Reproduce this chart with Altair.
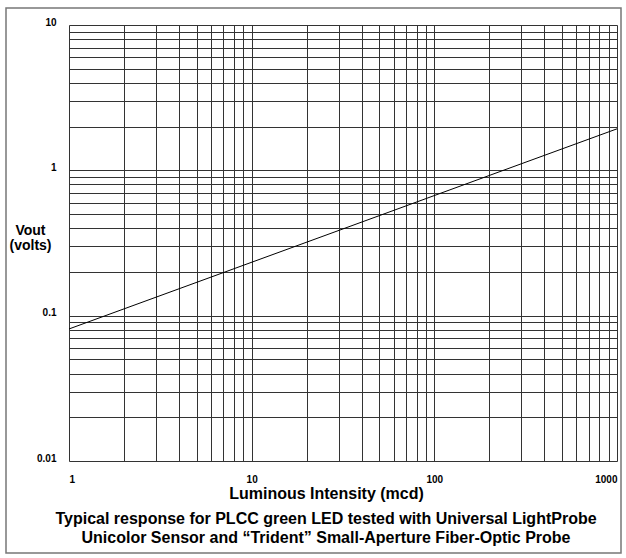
import altair as alt
import pandas as pd

# Line (log-log straight line)
intensity_mcd = [1, 1000]
vout_volts = [0.081, 1.93]

# Log-paper grid values
x_grid = [m * 10 ** e for e in range(0, 3) for m in range(1, 10)] + [1000]
y_grid = [round(m * 10.0 ** e, 4) for e in (-2, -1, 0) for m in range(1, 10)] + [10]
x_labels = [1, 10, 100, 1000]
y_labels = [0.01, 0.1, 1, 10]

title_lines = [
    "Typical response for PLCC green LED tested with Universal LightProbe",
    "Unicolor Sensor and \u201cTrident\u201d Small-Aperture Fiber-Optic Probe",
]

df = pd.DataFrame({"x": intensity_mcd, "y": vout_volts})
FONT = "Liberation Sans"

x_axis = alt.Axis(
    values=x_grid,
    format="d",
    labelExpr="indexof(%s, datum.value) >= 0 ? datum.label : ''" % x_labels,
    labelFlush=True,
    labelOverlap=False,
    labelFont=FONT,
    labelFontSize=10,
    labelFontWeight="bold",
    labelColor="#000",
    labelPadding=13,
    ticks=False,
    domain=False,
    grid=True,
    gridColor="#333",
    gridWidth=1,
    gridOpacity=1,
    title="Luminous Intensity (mcd)",
    titleFont=FONT,
    titleFontSize=16,
    titleFontWeight="bold",
    titleColor="#000",
    titleX=257,
    titleY=32,
    titleAlign="center",
    titleBaseline="middle",
)

y_axis = alt.Axis(
    values=y_grid,
    format="~g",
    labelExpr="indexof(%s, datum.value) >= 0 ? datum.label : ''" % y_labels,
    labelOverlap=False,
    labelFont=FONT,
    labelFontSize=10,
    labelFontWeight="bold",
    labelColor="#000",
    labelPadding=13,
    labelOffset=-3,
    ticks=False,
    domain=False,
    grid=True,
    gridColor="#333",
    gridWidth=1,
    gridOpacity=1,
    title=["Vout", "(volts)"],
    titleFont=FONT,
    titleFontSize=14,
    titleFontWeight="bold",
    titleColor="#000",
    titleAngle=0,
    titleAlign="center",
    titleBaseline="top",
    titleLineHeight=15,
    titleX=-39,
    titleY=198,
)

line = alt.Chart(df).mark_line(color="#000", strokeWidth=1, clip=True).encode(
    x=alt.X("x:Q", scale=alt.Scale(type="log", domain=[1, 1000], nice=False), axis=x_axis),
    y=alt.Y("y:Q", scale=alt.Scale(type="log", domain=[0.01, 10], nice=False), axis=y_axis),
)

frame = alt.Chart(pd.DataFrame({"a": [0]})).mark_rect(
    fill=None, stroke="#777", strokeWidth=1.5
).encode(
    x=alt.value(-63), x2=alt.value(552), y=alt.value(-17), y2=alt.value(528)
)

chart = alt.layer(frame, line).properties(
    width=548,
    height=436,
    autosize=alt.AutoSizeParams(type="none"),
    padding={"left": 69, "top": 25, "right": 9, "bottom": 97},
    title=alt.TitleParams(
        text=title_lines,
        orient="bottom",
        anchor="middle",
        font=FONT,
        fontSize=16,
        fontWeight="bold",
        color="#000",
        lineHeight=19,
        dx=-17,
        offset=-43,
    ),
).configure_view(stroke="#000", strokeWidth=1).configure(background="white")

chart.save("out.html", embed_options={"renderer": "svg", "actions": False})
